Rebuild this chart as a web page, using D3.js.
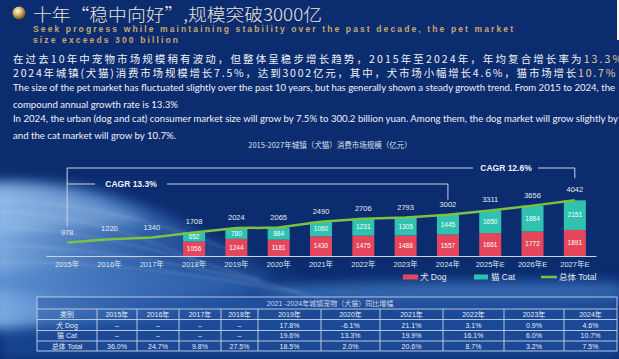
<!DOCTYPE html>
<html><head><meta charset="utf-8">
<script src="https://cdn.jsdelivr.net/npm/d3@7"></script>
<style>
body{margin:0;background:#0b2c6f;overflow:hidden}
svg{display:block}
</style>
</head><body>
<svg id="c" width="619" height="359"></svg>
<script>
// ---------- DATA ----------
const years = ["2015年","2016年","2017年","2018年","2019年","2020年","2021年","2022年","2023年","2024年","2025年E","2026年E","2027年E"];
const totalValues = [978,1220,1340,1708,2024,2065,2490,2706,2793,3002,3311,3656,4042];
const dogValues = [null,null,null,1056,1244,1181,1430,1475,1488,1557,1661,1772,1891];
const catValues = [null,null,null,652,780,884,1060,1231,1305,1445,1650,1884,2151];
const cagrLabels = ["CAGR 13.3%","CAGR 12.6%"];
const cagrEnds = ["2024年","2027年E"];
const legendLabels = ["犬 Dog","猫 Cat","总体 Total"];

const tableTitle = "2021 -2024年城镇宠物（犬猫）同比增幅";
const tableHeader = ["类别","2015年","2016年","2017年","2018年","2019年","2020年","2021年","2022年","2023年","2024年"];
const tableRowLabels = ["犬 Dog","猫 Cat","总体 Total"];
const dogGrowth = ["–","–","–","–","17.8%","-6.1%","21.1%","3.1%","0.9%","4.6%"];
const catGrowth = ["–","–","–","–","19.6%","13.3%","19.9%","16.1%","6.0%","10.7%"];
const totalGrowth = ["36.0%","24.7%","9.8%","27.5%","18.5%","2.0%","20.6%","8.7%","3.2%","7.5%"];

// ---------- SETUP ----------
const svg = d3.select("#c");
const W = 619, H = 359;
const CJK = "'Noto Sans CJK SC','Noto Sans',sans-serif";
const SANS = "'Liberation Sans','Noto Sans CJK SC',Arial,sans-serif";
const defs = svg.append("defs");

defs.append("filter").attr("id","blur6").attr("x","-20%").attr("y","-50%").attr("width","140%").attr("height","200%")
  .append("feGaussianBlur").attr("stdDeviation",6);
defs.append("filter").attr("id","blur2").attr("x","-20%").attr("y","-50%").attr("width","140%").attr("height","200%")
  .append("feGaussianBlur").attr("stdDeviation",1.5);
const wg = defs.append("linearGradient").attr("id","waveGrad").attr("x1",0).attr("y1",0).attr("x2",1).attr("y2",0);
wg.append("stop").attr("offset","0").attr("stop-color","#8cbcee").attr("stop-opacity",0.9);
wg.append("stop").attr("offset","0.45").attr("stop-color","#4178c4").attr("stop-opacity",0.65);
wg.append("stop").attr("offset","1").attr("stop-color","#1e4f9c").attr("stop-opacity",0);
const gold = defs.append("radialGradient").attr("id","goldBall").attr("cx","40%").attr("cy","35%").attr("r","65%");
gold.append("stop").attr("offset","0").attr("stop-color","#fff8e0");
gold.append("stop").attr("offset","0.5").attr("stop-color","#d6b06a");
gold.append("stop").attr("offset","1").attr("stop-color","#6b4e1e");

// ---------- BACKGROUND ----------
svg.append("rect").attr("width",W).attr("height",H).attr("fill","#0b2c6f");
const bg = svg.append("g");
bg.append("path").attr("d","M0,300 C150,285 380,290 619,278 L619,359 L0,359 Z")
  .attr("fill","#1f53a3").attr("opacity",0.6).attr("filter","url(#blur6)");
bg.append("path").attr("d","M-10,182 C60,178 120,192 180,222 C230,248 280,268 340,290 L340,320 C250,315 120,318 -10,330 Z")
  .attr("fill","url(#waveGrad)").attr("filter","url(#blur6)");
bg.append("path").attr("d","M-10,192 C50,186 100,198 150,222 C110,228 50,224 -10,238 Z")
  .attr("fill","#a8cdf2").attr("opacity",0.4).attr("filter","url(#blur6)");
bg.append("ellipse").attr("cx",460).attr("cy",292).attr("rx",200).attr("ry",11)
  .attr("fill","#5189cf").attr("opacity",0.5).attr("filter","url(#blur6)");
bg.append("ellipse").attr("cx",120).attr("cy",282).attr("rx",150).attr("ry",15)
  .attr("fill","#4178c2").attr("opacity",0.5).attr("filter","url(#blur6)");
[[0,200,120,205,230,250],[0,212,90,212,200,262],[10,228,110,232,260,280],[0,245,140,250,300,292],[0,262,160,262,330,300]].forEach(p=>{
  bg.append("path").attr("d",`M${p[0]},${p[1]} Q${p[2]},${p[3]} ${p[4]},${p[5]}`)
    .attr("fill","none").attr("stroke","#d8ecff").attr("stroke-width",1.2).attr("opacity",0.28).attr("filter","url(#blur2)");
});
svg.append("rect").attr("x",617).attr("y",0).attr("width",2).attr("height",40).attr("fill","#f2f4f8");

// ---------- HEADER ----------
svg.append("circle").attr("cx",19).attr("cy",13).attr("r",6.5).attr("fill","url(#goldBall)");
svg.append("text").attr("x",33).attr("y",20.5).attr("font-family",CJK).attr("font-size",17.5).attr("font-weight",300)
  .attr("fill","#e9e4d8").attr("textLength",289).attr("lengthAdjust","spacingAndGlyphs")
  .text("十年“稳中向好”,规模突破3000亿");
const sub = ["Seek progress while maintaining stability over the past decade, the pet market","size exceeds 300 billion"];
const subLen = [480,145];
sub.forEach((t,i)=>{
  svg.append("text").attr("x",33).attr("y",32+i*11).attr("font-family",SANS).attr("font-size",8.5)
    .attr("font-weight","bold").attr("fill","#c9a86c").attr("textLength",subLen[i]).attr("lengthAdjust","spacing").text(t);
});

// Chinese paragraph
function richLine(y, ls, parts){
  const t = svg.append("text").attr("x",13).attr("y",y).attr("font-family",CJK).attr("font-size",10.5)
    .attr("letter-spacing",ls).attr("fill","#eef1f7");
  parts.forEach(p=>t.append("tspan").attr("fill",p[1]||"#eef1f7").text(p[0]));
}
richLine(63,2.1,[["在过去10年中宠物市场规模稍有波动，但整体呈稳步增长趋势，2015年至2024年，年均复合增长率为"],["13.3%","#e6cf9e"]]);
richLine(77,1.8,[["2024年城镇(犬猫)消费市场规模增长7.5%，达到3002亿元，其中，犬市场小幅增长4.6%，猫市场增长"],["10.7%","#e6cf9e"]]);

const eng = [
  ["The size of the pet market has fluctuated slightly over the past 10 years, but has generally shown a steady growth trend. From 2015 to 2024, the",91,602],
  ["compound annual growth rate is 13.3%",108,165],
  ["In 2024, the urban (dog and cat) consumer market size will grow by 7.5% to 300.2 billion yuan. Among them, the dog market will grow slightly by",122,605],
  ["and the cat market will grow by 10.7%.",139,163]
];
eng.forEach(e=>{
  svg.append("text").attr("x",13).attr("y",e[1]).attr("font-family","Lato,'Open Sans',sans-serif").attr("font-size",9.6)
    .attr("fill","#eef2f8").attr("textLength",e[2]).attr("lengthAdjust","spacingAndGlyphs").text(e[0]);
});

// ---------- CHART ----------
svg.append("text").attr("x",330).attr("y",148).attr("text-anchor","middle").attr("font-family",CJK).attr("font-size",7.5)
  .attr("fill","#d9e1ee").text("2015-2027年城镇（犬猫）消费市场规模（亿元）");

const x = d3.scaleBand().domain(years).range([46,596]).padding(0);
const y = d3.scaleLinear().domain([0,4500]).range([256,194]);
const bw = 22;
const cx = d => x(d) + x.bandwidth()/2;

const data = years.map((yr,i)=>({year:yr,total:totalValues[i],dog:dogValues[i],cat:catValues[i]}));
const barData = data.filter(d=>d.dog!=null);

// CAGR brackets
const bracketG = svg.append("g").attr("fill","none").attr("stroke","#c9d3e6").attr("stroke-width",1);
const x0 = cx(years[0]);
const topY1 = 168, topY2 = 184;
const endOuter = cx(cagrEnds[1]), endInner = cx(cagrEnds[0]);
const totOuter = totalValues[years.indexOf(cagrEnds[1])], totInner = totalValues[years.indexOf(cagrEnds[0])];
bracketG.append("path").attr("d",`M${x0},${y(totalValues[0])-16} V${topY1} H${473} M${538},${topY1} H${endOuter} V${y(totOuter)-22}`);
bracketG.append("path").attr("d",`M${x0},${topY2} H${95} M${167},${topY2} H${endInner} V${y(totInner)-15}`);
svg.append("text").attr("x",131).attr("y",topY2+3).attr("text-anchor","middle").attr("font-family",SANS)
  .attr("font-size",8.5).attr("font-weight","bold").attr("fill","#eef2f8").text(cagrLabels[0]);
svg.append("text").attr("x",506).attr("y",topY1+3).attr("text-anchor","middle").attr("font-family",SANS)
  .attr("font-size",8.5).attr("font-weight","bold").attr("fill","#eef2f8").text(cagrLabels[1]);

// Bars
const bars = svg.append("g");
bars.selectAll("rect.dog").data(barData).join("rect").attr("class","dog")
  .attr("x",d=>cx(d.year)-bw/2).attr("width",bw)
  .attr("y",d=>y(d.dog)).attr("height",d=>y(0)-y(d.dog)).attr("fill","#e5465b");
bars.selectAll("rect.cat").data(barData).join("rect").attr("class","cat")
  .attr("x",d=>cx(d.year)-bw/2).attr("width",bw)
  .attr("y",d=>y(d.dog+d.cat)).attr("height",d=>y(d.dog)-y(d.dog+d.cat)).attr("fill","#2fc2b0");
bars.selectAll("text.dogl").data(barData).join("text").attr("class","dogl")
  .attr("x",d=>cx(d.year)).attr("y",d=>(y(0)+y(d.dog))/2+2.3).attr("text-anchor","middle")
  .attr("font-family",SANS).attr("font-size",6.5).attr("fill","#ffffff").text(d=>d.dog);
bars.selectAll("text.catl").data(barData).join("text").attr("class","catl")
  .attr("x",d=>cx(d.year)).attr("y",d=>(y(d.dog)+y(d.dog+d.cat))/2+2.3).attr("text-anchor","middle")
  .attr("font-family",SANS).attr("font-size",6.5).attr("fill","#ffffff").text(d=>d.cat);

// Axis
const axis = svg.append("g").attr("transform",`translate(0,${y(0)})`)
  .call(d3.axisBottom(x).tickSize(0).tickPadding(6));
axis.select(".domain").attr("stroke","#c9d3e6").attr("stroke-width",1.2);
axis.selectAll("text").attr("font-family",SANS).attr("font-size",7.5).attr("fill","#dfe6f1");

// Total line
svg.append("path").datum(data).attr("fill","none").attr("stroke","#7cc242").attr("stroke-width",2.5)
  .attr("d",d3.line().x(d=>cx(d.year)).y(d=>y(d.total)));
svg.append("g").selectAll("text").data(data).join("text")
  .attr("x",d=>cx(d.year)).attr("y",d=>y(d.total)-8).attr("text-anchor","middle")
  .attr("font-family",SANS).attr("font-size",7.5).attr("fill","#e6ebf3").text(d=>d.total);

// Legend
const lg = svg.append("g").attr("font-family",SANS).attr("font-size",8.5).attr("fill","#e6ebf3");
lg.append("rect").attr("x",403).attr("y",274.5).attr("width",15).attr("height",5).attr("fill","#e5465b");
lg.append("text").attr("x",420).attr("y",280).text(legendLabels[0]);
lg.append("rect").attr("x",474).attr("y",274.5).attr("width",14).attr("height",5).attr("fill","#2fc2b0");
lg.append("text").attr("x",491).attr("y",280).text(legendLabels[1]);
lg.append("line").attr("x1",541).attr("x2",557).attr("y1",277).attr("y2",277).attr("stroke","#7cc242").attr("stroke-width",2.5);
lg.append("text").attr("x",559).attr("y",280).text(legendLabels[2]);

// ---------- TABLE ----------
const colEdges = [37,97,137,179,221,258,321,380,443,504,564,617];
const rowEdges = [297,309,319.5,330.5,341,351];
const tableRows = [tableHeader,[tableRowLabels[0],...dogGrowth],[tableRowLabels[1],...catGrowth],[tableRowLabels[2],...totalGrowth]];
const tg = svg.append("g");
tg.append("rect").attr("x",colEdges[0]).attr("y",rowEdges[0]).attr("width",colEdges[11]-colEdges[0])
  .attr("height",rowEdges[5]-rowEdges[0]).attr("fill","#2553a0").attr("fill-opacity",0.45);
tg.append("text").attr("x",330).attr("y",(rowEdges[0]+rowEdges[1])/2+2.5).attr("text-anchor","middle")
  .attr("font-family",SANS).attr("font-size",7).attr("fill","#cfd9ea").text(tableTitle);
const cells = [];
tableRows.forEach((row,ri)=>row.forEach((v,ci)=>cells.push({v,ri,ci})));
tg.selectAll("text.cell").data(cells).join("text").attr("class","cell")
  .attr("x",d=>(colEdges[d.ci]+colEdges[d.ci+1])/2)
  .attr("y",d=>(rowEdges[d.ri+1]+rowEdges[d.ri+2])/2+2.5)
  .attr("text-anchor","middle").attr("font-family",SANS).attr("font-size",7).attr("fill","#e6ecf5").text(d=>d.v);
const grid = tg.append("g").attr("stroke","#c5d2ea").attr("stroke-width",0.9).attr("fill","none");
grid.append("rect").attr("x",colEdges[0]).attr("y",rowEdges[0]).attr("width",colEdges[11]-colEdges[0]).attr("height",rowEdges[5]-rowEdges[0]);
rowEdges.slice(1,5).forEach(r=>grid.append("line").attr("x1",colEdges[0]).attr("x2",colEdges[11]).attr("y1",r).attr("y2",r));
colEdges.slice(1,11).forEach(c=>grid.append("line").attr("x1",c).attr("x2",c).attr("y1",rowEdges[1]).attr("y2",rowEdges[5]));
</script>
</body></html>
